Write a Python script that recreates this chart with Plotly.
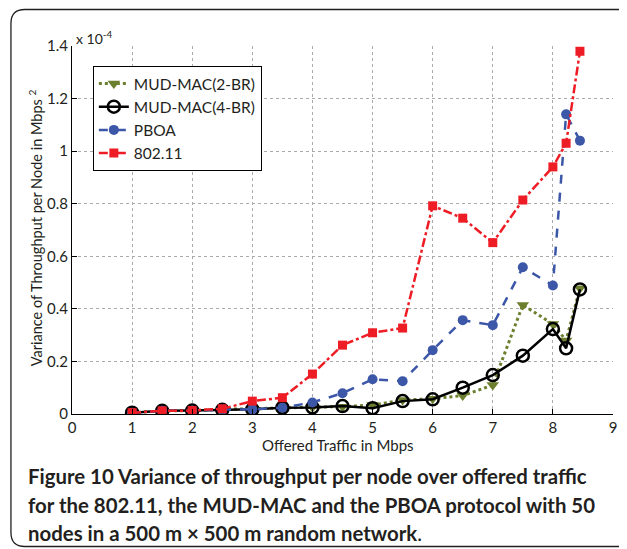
import plotly.graph_objects as go

# ---- data (values in units of 1e-4 Mbps^2) ----
x_vals = [1, 1.5, 2, 2.5, 3, 3.5, 4, 4.5, 5, 5.5, 6, 6.5, 7, 7.5, 8, 8.22, 8.45]

mud2_y = [0.005, 0.012, 0.013, 0.018, 0.02, 0.024, 0.026, 0.028, 0.034, 0.053, 0.058, 0.07, 0.11, 0.415, 0.342, 0.28, 0.478]
mud4_y = [0.005, 0.012, 0.013, 0.016, 0.018, 0.024, 0.025, 0.03, 0.022, 0.049, 0.056, 0.1, 0.148, 0.222, 0.323, 0.25, 0.474]
pboa_y = [0.005, 0.012, 0.012, 0.017, 0.018, 0.024, 0.044, 0.079, 0.132, 0.125, 0.243, 0.357, 0.338, 0.558, 0.489, 1.14, 1.04]
ieee_y = [0.005, 0.012, 0.013, 0.02, 0.049, 0.062, 0.152, 0.262, 0.309, 0.327, 0.792, 0.745, 0.652, 0.814, 0.94, 1.03, 1.38]

names = ["MUD-MAC(2-BR)", "MUD-MAC(4-BR)", "PBOA", "802.11"]
x_ticks = list(range(0, 10))
y_ticks = [0, 0.2, 0.4, 0.6, 0.8, 1.0, 1.2, 1.4]
y_tick_labels = ["0", "0.2", "0.4", "0.6", "0.8", "1", "1.2", "1.4"]

caption_lines = [
    "<b>Figure 10 Variance of throughput per node over offered traffic</b>",
    "<b>for the 802.11, the MUD-MAC and the PBOA protocol with 50</b>",
    "<b>nodes in a 500 m × 500 m random network</b>.",
]

# ---- layout geometry: page pixels (body has an 8 px margin) ----
OFF = 8
PAGE_W, PAGE_H = 627, 549
W, H = PAGE_W - OFF, PAGE_H - OFF
PL, PR, PT, PB = 72, 617, 46, 414      # plot area in page pixels
L, R, T, B = PL - OFF, PAGE_W - PR, PT - OFF, PAGE_H - PB
pw, ph = PR - PL, PB - PT

def px(xp):
    return (xp - PL) / pw

def py(yp):
    return (PB - yp) / ph

FONT = "Lato"
TXT = "#231F20"
fig = go.Figure()

fig.add_trace(go.Scatter(x=x_vals, y=mud2_y, name=names[0], mode="lines+markers",
                         line=dict(color="#6B7F2E", width=3, dash="dot"),
                         marker=dict(symbol="triangle-down", size=11, color="#6B7F2E")))
fig.add_trace(go.Scatter(x=x_vals, y=mud4_y, name=names[1], mode="lines+markers",
                         line=dict(color="black", width=2.5),
                         marker=dict(symbol="circle-open", size=12, color="black", line=dict(width=2.5))))
fig.add_trace(go.Scatter(x=x_vals, y=pboa_y, name=names[2], mode="lines+markers",
                         line=dict(color="#3D57A8", width=2.5, dash="dash"),
                         marker=dict(symbol="circle", size=10, color="#3D57A8")))
fig.add_trace(go.Scatter(x=x_vals, y=ieee_y, name=names[3], mode="lines+markers",
                         line=dict(color="#EE1C25", width=2.5, dash="dashdot"),
                         marker=dict(symbol="square", size=9, color="#EE1C25")))

# rounded frame around chart + caption
r = 14
x0, y0, x1, y1 = 10.5, 9.5, 660, 546.5
path = (f"M {px(x0)},{py(y0 + r)} Q {px(x0)},{py(y0)} {px(x0 + r)},{py(y0)} "
        f"L {px(x1)},{py(y0)} L {px(x1)},{py(y1)} "
        f"L {px(x0 + r)},{py(y1)} Q {px(x0)},{py(y1)} {px(x0)},{py(y1 - r)} Z")
fig.add_shape(type="path", path=path, xref="paper", yref="paper",
              line=dict(color=TXT, width=1.3), fillcolor="rgba(0,0,0,0)", layer="below")

fig.add_annotation(text="x 10<sup>-4</sup>", x=px(74), y=py(38), xref="paper", yref="paper",
                   xanchor="left", yanchor="middle", showarrow=False,
                   font=dict(family=FONT, size=14, color=TXT))
fig.add_annotation(text="Variance of Throughput per Node in Mbps <sup>2</sup>", x=px(35), y=py(228),
                   xref="paper", yref="paper", textangle=-90, showarrow=False,
                   xanchor="center", yanchor="middle",
                   font=dict(family=FONT, size=14.5, color=TXT))
fig.add_annotation(text="Offered Traffic in Mbps", x=px(340), y=py(445), xref="paper", yref="paper",
                   xanchor="center", yanchor="middle", showarrow=False,
                   font=dict(family=FONT, size=15, color=TXT))
for i, line in enumerate(caption_lines):
    fig.add_annotation(text=line, x=px(26), y=py(476 + 28.5 * i), xref="paper", yref="paper",
                       xanchor="left", yanchor="middle", align="left", showarrow=False,
                       font=dict(family=FONT, size=20.4, color=TXT))

axis_common = dict(showline=True, linecolor="black", linewidth=1, mirror=False,
                   ticks="inside", ticklen=5, tickcolor="black",
                   showgrid=True, gridcolor="#AAAAAA", gridwidth=1, griddash="dot",
                   zeroline=False, ticklabeloverflow="allow",
                   tickfont=dict(family=FONT, size=15, color=TXT))

fig.update_layout(
    width=W, height=H,
    margin=dict(l=L, r=R, t=T, b=B),
    paper_bgcolor="white", plot_bgcolor="white",
    showlegend=True,
    legend=dict(x=px(93), y=py(66), xanchor="left", yanchor="top",
                bordercolor="black", borderwidth=1, bgcolor="white",
                font=dict(family=FONT, size=15.5, color=TXT),
                tracegroupgap=0, itemwidth=30),
    xaxis=dict(range=[0, 9], tickvals=x_ticks, **axis_common),
    yaxis=dict(range=[0, 1.4], tickvals=y_ticks, ticktext=y_tick_labels, **axis_common),
)

fig.write_html("out.html")
